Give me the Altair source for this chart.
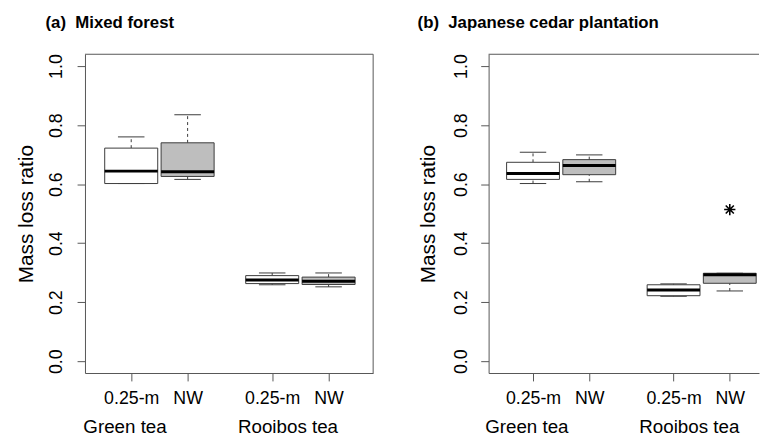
import altair as alt
import pandas as pd

# ---- data ----
positions = [1, 2, 3.5, 4.5]
treatments = ["0.25-m", "NW", "0.25-m", "NW"]
teas = ["Green tea", "Green tea", "Rooibos tea", "Rooibos tea"]

# (a) Mixed forest
a_low = [0.602, 0.616, 0.259, 0.252]
a_q1 = [0.602, 0.626, 0.263, 0.260]
a_med = [0.644, 0.642, 0.275, 0.271]
a_q3 = [0.722, 0.740, 0.290, 0.285]
a_high = [0.760, 0.835, 0.299, 0.299]
a_out_pos = []
a_out_val = []

# (b) Japanese cedar plantation
b_low = [0.602, 0.608, 0.220, 0.238]
b_q1 = [0.616, 0.632, 0.222, 0.264]
b_med = [0.636, 0.663, 0.241, 0.293]
b_q3 = [0.674, 0.683, 0.259, 0.298]
b_high = [0.708, 0.699, 0.262, 0.298]
b_out_pos = [4.5]
b_out_val = [0.514]

group_names = ["Green tea", "Rooibos tea"]
group_label_pos = [0.89, 3.78]

y_ticks = [0.0, 0.2, 0.4, 0.6, 0.8, 1.0]

FONT = "Liberation Sans"
BORDER = "#555555"
BOXLINE = "#3a3a3a"
BOX_HALF = 0.47
CAP_HALF = 0.235
Y_DOMAIN = [-0.04, 1.04]
H = 323

tick_expr = " : ".join(
    f"datum.value == {p} ? '{t}'" for p, t in zip(positions, treatments)
) + " : ''"


def panel(title, low, q1, med, q3, high, out_pos, out_val, xdom, width,
          title_dx, ylab_pad, ytitle_x, right_border):
    df = pd.DataFrame({"pos": positions, "treatment": treatments, "tea": teas,
                       "low": low, "q1": q1, "med": med, "q3": q3, "high": high})
    xaxis = alt.Axis(values=positions, labelExpr=tick_expr, tickSize=8,
                     labelPadding=23, labelBaseline="alphabetic", labelAngle=0,
                     labelFlush=False, labelOverlap=False, domain=True,
                     domainColor=BORDER, tickColor=BORDER, grid=False)
    yaxis = alt.Axis(values=y_ticks, format=".1f", tickSize=8, labelAngle=270,
                     labelAlign="center", labelBaseline="alphabetic",
                     labelPadding=ylab_pad, labelFlush=False, labelOverlap=False,
                     domain=True, domainColor=BORDER, tickColor=BORDER, grid=False,
                     titleAngle=270, titleAlign="center", titleBaseline="alphabetic",
                     titleX=ytitle_x, titleY=H / 2, titleFontSize=21,
                     titleFont=FONT, titleFontWeight="normal", titleColor="black")
    xs = alt.Scale(domain=xdom, nice=False, zero=False)
    ys = alt.Scale(domain=Y_DOMAIN, nice=False, zero=False)

    def X(f):
        return alt.X(f, type="quantitative", scale=xs, axis=xaxis, title=None)

    def Y(f):
        return alt.Y(f, type="quantitative", scale=ys, axis=yaxis, title="Mass loss ratio")

    base = alt.Chart(df).transform_calculate(
        bl=f"datum.pos - {BOX_HALF}", br=f"datum.pos + {BOX_HALF}",
        cl=f"datum.pos - {CAP_HALF}", cr=f"datum.pos + {CAP_HALF}")

    whisk_up = base.mark_rule(color=BOXLINE, strokeWidth=1, strokeDash=[3, 3]).encode(
        x=X("pos"), y=Y("q3"), y2="high")
    whisk_lo = base.mark_rule(color=BOXLINE, strokeWidth=1, strokeDash=[3, 3]).encode(
        x=X("pos"), y=Y("low"), y2="q1")
    cap_up = base.mark_rule(color=BOXLINE, strokeWidth=1).encode(
        x=X("cl"), x2="cr", y=Y("high"))
    cap_lo = base.mark_rule(color=BOXLINE, strokeWidth=1).encode(
        x=X("cl"), x2="cr", y=Y("low"))
    boxes = base.mark_rect(stroke=BOXLINE, strokeWidth=1).encode(
        x=X("bl"), x2="br", y=Y("q1"), y2="q3",
        fill=alt.Fill("treatment:N", legend=None,
                      scale=alt.Scale(domain=["0.25-m", "NW"], range=["white", "#bebebe"])))
    medians = base.mark_rule(color="black", strokeWidth=3).encode(
        x=X("bl"), x2="br", y=Y("med"))

    layers = [whisk_up, whisk_lo, cap_up, cap_lo, boxes, medians]

    if out_pos:
        odf = pd.DataFrame({"pos": out_pos, "val": out_val})
        star = "M-1,0L1,0M0,-1L0,1M-0.72,-0.72L0.72,0.72M-0.72,0.72L0.72,-0.72"
        layers.append(alt.Chart(odf).mark_point(
            shape=star, size=130, filled=False, stroke="black", strokeWidth=1.6,
            opacity=1).encode(x=X("pos"), y=Y("val")))

    gdf = pd.DataFrame({"name": group_names, "gpos": group_label_pos})
    layers.append(alt.Chart(gdf).mark_text(
        font=FONT, fontSize=19, color="black", align="center",
        baseline="alphabetic").encode(x=X("gpos"), y=alt.value(384), text="name:N"))

    frame = pd.DataFrame({"k": [0]})
    layers.append(alt.Chart(frame).mark_rule(color=BORDER, strokeWidth=1).encode(
        x=alt.value(0), x2=alt.value(width), y=alt.value(0)))
    if right_border:
        layers.append(alt.Chart(frame).mark_rule(color=BORDER, strokeWidth=1).encode(
            x=alt.value(width), y=alt.value(0), y2=alt.value(H)))

    return alt.layer(*layers).properties(
        width=width, height=H,
        view=alt.ViewBackground(stroke=None),
        title=alt.TitleParams(text=title, anchor="start", dx=title_dx, offset=9,
                              baseline="alphabetic", fontSize=17, font=FONT,
                              fontWeight="bold", color="black", frame="group"))


left = panel("(a)\u00a0 Mixed forest", a_low, a_q1, a_med, a_q3, a_high,
             a_out_pos, a_out_val, [0.18, 5.29], 292, -40, 16, -53, True)
right = panel("(b)\u00a0 Japanese cedar plantation", b_low, b_q1, b_med, b_q3, b_high,
              b_out_pos, b_out_val, [0.21, 5.02], 274, -72, 14, -55, False)

chart = alt.hconcat(left, right, spacing=44).configure(
    padding={"left": 8, "top": 3, "right": 0, "bottom": 0},
    background="white",
).configure_axis(
    labelFont=FONT, labelFontSize=18, labelColor="black",
    tickWidth=1, domainWidth=1,
)

chart.save("out.html", embed_options={"renderer": "svg", "actions": False})
